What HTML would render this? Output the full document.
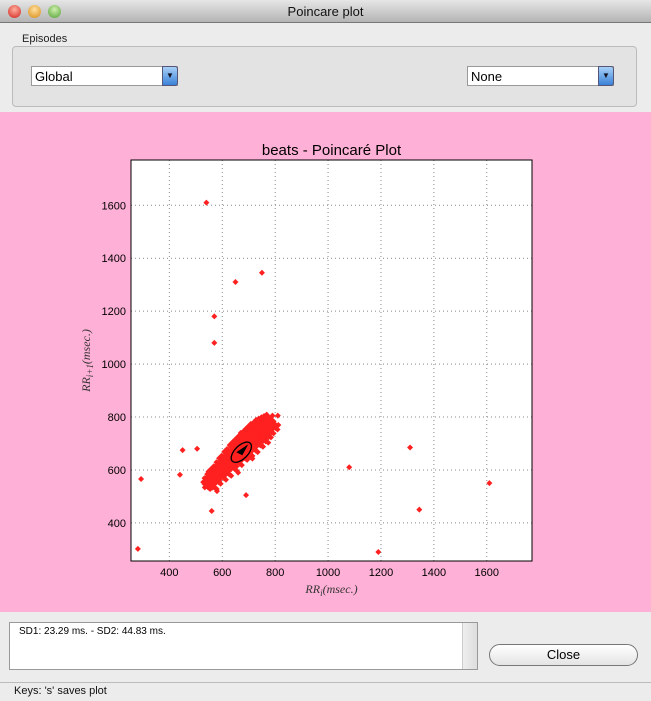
<!DOCTYPE html>
<html><head><meta charset="utf-8"><style>
*{margin:0;padding:0;box-sizing:border-box}
body{width:651px;height:701px;overflow:hidden;background:#ececec;font-family:"Liberation Sans",sans-serif;position:relative}
.abs{position:absolute}
</style></head><body>
<div class="abs" style="left:0;top:0;width:651px;height:23px;background:linear-gradient(#e6e6e6,#b4b4b4);border-bottom:1px solid #777;text-align:center;font-size:13px;line-height:23px;color:#111">Poincare plot</div>
<div class="abs" style="left:8px;top:5px;width:13px;height:13px;border-radius:50%;background:radial-gradient(circle at 50% 35%,#ffb0a0,#d0201a)"></div>
<div class="abs" style="left:28px;top:5px;width:13px;height:13px;border-radius:50%;background:radial-gradient(circle at 50% 35%,#ffe0a0,#d88a10)"></div>
<div class="abs" style="left:48px;top:5px;width:13px;height:13px;border-radius:50%;background:radial-gradient(circle at 50% 35%,#d0f0b0,#50a030)"></div>
<div class="abs" style="left:22px;top:33px;font-size:11px;color:#222">Episodes</div>
<div class="abs" style="left:12px;top:46px;width:625px;height:61px;border:1px solid #bbb;border-radius:4px;background:#e3e3e3"></div>
<div class="abs" style="left:31px;top:66px;width:147px;height:20px;background:#fff;border:1px solid #999;font-size:13px;line-height:19px;padding-left:3px">Global<div class="abs" style="right:-1px;top:-1px;width:16px;height:20px;background:linear-gradient(#a8d0f8,#3a82d8);border:1px solid #557;border-radius:0 3px 3px 0;color:#112;font-size:8px;text-align:center;line-height:18px">▼</div></div>
<div class="abs" style="left:467px;top:66px;width:147px;height:20px;background:#fff;border:1px solid #999;font-size:13px;line-height:19px;padding-left:3px">None<div class="abs" style="right:-1px;top:-1px;width:16px;height:20px;background:linear-gradient(#a8d0f8,#3a82d8);border:1px solid #557;border-radius:0 3px 3px 0;color:#112;font-size:8px;text-align:center;line-height:18px">▼</div></div>
<div class="abs" style="left:0;top:112px;width:651px;height:500px;background:#ffb0d6"></div>
<svg class="abs" id="chart" style="left:0;top:112px" width="651" height="500"></svg>
<div class="abs" style="left:9px;top:622px;width:469px;height:48px;background:#fff;border:1px solid #999;font-size:10px;padding:3px 9px">SD1: 23.29 ms. - SD2: 44.83 ms.<div class="abs" style="right:0;top:0;width:15px;height:46px;background:linear-gradient(90deg,#eee,#ddd);border-left:1px solid #ccc"></div></div>
<div class="abs" style="left:489px;top:644px;width:149px;height:22px;border:1px solid #777;border-radius:11px;background:linear-gradient(#fff,#e4e4e4);text-align:center;font-size:13px;line-height:20px">Close</div>
<div class="abs" style="left:0;top:682px;width:651px;height:1px;background:#bbb"></div>
<div class="abs" style="left:14px;top:685px;font-size:11px;color:#111">Keys: 's' saves plot</div>
<script>
const xTicks=[400,600,800,1000,1200,1400,1600];
const yTicks=[400,600,800,1000,1200,1400,1600];
const outX=[540,650,750,570,570,293,281,450,440,505,560,690,580,660,1080,1190,1310,1345,1610,810,790,812,610,670];
const outY=[1610,1310,1345,1180,1080,566,302,675,582,680,445,505,520,590,610,290,685,450,550,805,805,770,580,740];
const clX=[545,555,565,575,585,595,605,615,625,635,645,655,665,675,685,695,705,715,725,735,745,755,765,775,785,560,570,580,590,600,610,620,630,640,650,660,670,680,690,700,710,720,730,740,750,760,770,780,600,620,640,660,680,700,720,740,760,780,640,660,680,700,720,740,760,690,710,730,750,770,700,720,740,760,580,600,620,640,660,680,700,720,740,670,690,710,730,750,760,780,795,540,555,575,550,565];
const clY=[555,560,575,585,595,605,615,625,640,650,660,670,680,690,700,705,715,725,735,740,750,755,760,770,780,580,590,600,615,630,640,655,665,680,690,700,710,720,730,740,750,760,765,775,780,785,790,795,600,625,645,665,690,705,725,740,755,770,625,650,670,690,710,725,745,670,690,705,720,735,655,680,700,715,560,575,590,610,630,650,665,680,700,705,720,740,755,770,735,750,765,540,570,570,545,540];
const ell={cx:672,cy:667,sd1:23.29,sd2:44.83};
const X0=255,X1=1771,Y0=256,Y1=1771,L=131,R=532,T=48,B=449;
const sx=v=>L+(v-X0)/(X1-X0)*(R-L);
const sy=v=>B-(v-Y0)/(Y1-Y0)*(B-T);
const svg=document.getElementById('chart');const NS='http://www.w3.org/2000/svg';
function mk(t,a,p){const e=document.createElementNS(NS,t);for(const k in a)e.setAttribute(k,a[k]);(p||svg).appendChild(e);return e;}
const bg=mk('rect',{x:L,y:T,width:R-L,height:B-T,fill:'#fff'});


xTicks.forEach(v=>{const x=sx(v);
const g=mk('line',{x1:x,x2:x,y1:T,y2:B,stroke:'#888','stroke-dasharray':'1,3'});


const t=mk('text',{x:x,y:B+15,'text-anchor':'middle','font-size':11,fill:'#000'});t.textContent=v;

});
yTicks.forEach(v=>{const y=sy(v);
const g=mk('line',{x1:L,x2:R,y1:y,y2:y,stroke:'#888','stroke-dasharray':'1,3'});


const t=mk('text',{x:L-5,y:y+4,'text-anchor':'end','font-size':11,fill:'#000'});t.textContent=v;

});
function pt(x,y){const cx=sx(x),cy=sy(y);
const p=mk('path',{d:`M${cx-3} ${cy}L${cx} ${cy-3}L${cx+3} ${cy}L${cx} ${cy+3}Z`,fill:'#ff2020'});

}
outX.forEach((v,i)=>pt(v,outY[i]));
const offs=[[0,0],[7,-7],[-7,7],[14,-12],[-12,14],[6,6],[-6,-6]];
clX.forEach((v,i)=>offs.forEach(o=>pt(v+o[0],clY[i]+o[1])));
const k=(R-L)/(X1-X0);
const e=mk('ellipse',{cx:sx(ell.cx),cy:sy(ell.cy),rx:ell.sd2*1.07*k,ry:ell.sd1*1.07*k,fill:'none',stroke:'#000','stroke-width':1.3,transform:`rotate(-45 ${sx(ell.cx)} ${sy(ell.cy)})`});


const c=mk('path',{d:`M${sx(ell.cx)-5} ${sy(ell.cy)}L${sx(ell.cx)+7} ${sy(ell.cy)-8}L${sx(ell.cx)+1} ${sy(ell.cy)+3}Z`,fill:'#000'});


const fr=mk('rect',{x:L,y:T,width:R-L,height:B-T,fill:'none',stroke:'#000','stroke-width':1});


const ti=mk('text',{x:(L+R)/2,y:T-5,'text-anchor':'middle','font-size':15,fill:'#000'});ti.textContent='beats - Poincaré Plot';


const xl=mk('text',{x:(L+R)/2,y:B+32,'text-anchor':'middle','font-size':12,'font-style':'italic','font-family':'Liberation Serif,serif',fill:'#333'});xl.innerHTML='RR<tspan font-size="9" dy="3">i</tspan><tspan dy="-3">(msec.)</tspan>';


const yl=mk('text',{x:0,y:0,'text-anchor':'middle','font-size':12,'font-style':'italic','font-family':'Liberation Serif,serif',fill:'#333',transform:`translate(90 ${(T+B)/2}) rotate(-90)`});yl.innerHTML='RR<tspan font-size="9" dy="3">i+1</tspan><tspan dy="-3">(msec.)</tspan>';


</script>
</body></html>
